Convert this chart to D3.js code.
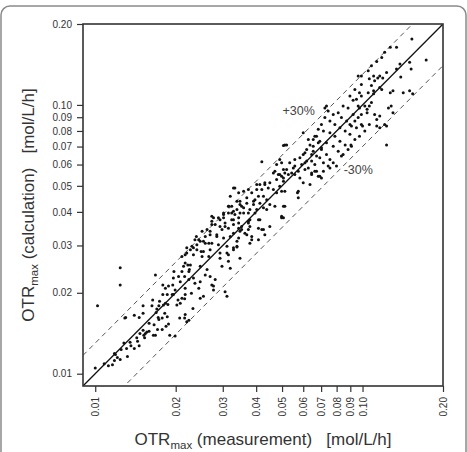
<!DOCTYPE html>
<html>
<head>
<meta charset="utf-8">
<script src="https://cdn.jsdelivr.net/npm/d3@7/dist/d3.min.js"></script>
<style>
  body { margin: 0; background: #fff; }
  text { font-family: "Liberation Sans", Arial, sans-serif; }
</style>
</head>
<body>
<div id="chart"></div>
<script>
// OTRmax measured (x) vs calculated (y), mol/L/h
var samples = [
  [0.0124,0.0248],[0.0124,0.0214],[0.0102,0.0179],
  [0.0100,0.0105],[0.0108,0.0109],[0.0112,0.0107],[0.0116,0.0108],[0.0118,0.0112],[0.0121,0.0115],[0.0124,0.0113],[0.0119,0.0118],
  [0.0125,0.0123],[0.0131,0.0124],[0.0132,0.0116],[0.0135,0.0131],[0.0136,0.0127],[0.0140,0.0124],[0.0143,0.0136],[0.0144,0.0132],
  [0.0146,0.0127],[0.0147,0.0141],[0.0151,0.0145],[0.0154,0.0141],[0.0156,0.0143],[0.0159,0.0144],[0.0153,0.0136],[0.0159,0.0154],
  [0.0168,0.0139],[0.0166,0.0152],[0.0130,0.0162],[0.0140,0.0165],[0.0146,0.0162],[0.0151,0.0168],[0.0151,0.0179],[0.0163,0.0179],
  [0.0164,0.0188],[0.0169,0.0169],[0.0173,0.0179],[0.0172,0.0162],[0.0173,0.0159],[0.0178,0.0161],[0.0178,0.0146],[0.0184,0.0150],
  [0.0186,0.0163],[0.0182,0.0168],[0.0170,0.0174],[0.0190,0.0139],[0.0199,0.0138],[0.0174,0.0186],[0.0180,0.0180],[0.0183,0.0183],
  [0.0187,0.0181],[0.0202,0.0180],[0.0208,0.0183],[0.0216,0.0190],[0.0207,0.0161],[0.0217,0.0166],[0.0224,0.0158],[0.0232,0.0175],
  [0.0168,0.0233],[0.0183,0.0208],[0.0179,0.0197],[0.0186,0.0197],[0.0188,0.0212],[0.0195,0.0214],[0.0196,0.0197],[0.0199,0.0205],
  [0.0197,0.0240],[0.0205,0.0230],[0.0208,0.0220],[0.0216,0.0230],[0.0211,0.0240],[0.0217,0.0208],[0.0211,0.0191],[0.0204,0.0188],
  [0.0224,0.0224],[0.0229,0.0199],[0.0224,0.0240],[0.0179,0.0214],[0.0196,0.0227],[0.0233,0.0227],[0.0225,0.0244],[0.0194,0.0197],
  [0.0118,0.0119],[0.0128,0.0130],[0.0129,0.0161],
  [0.0214,0.0251],[0.0217,0.0258],[0.0222,0.0254],[0.0211,0.0273],[0.0220,0.0281],[0.0227,0.0289],[0.0233,0.0294],[0.0240,0.0302],
  [0.0239,0.0324],[0.0244,0.0315],[0.0249,0.0285],[0.0254,0.0311],[0.0258,0.0324],[0.0266,0.0306],[0.0269,0.0339],[0.0273,0.0369],
  [0.0273,0.0385],[0.0281,0.0359],[0.0285,0.0329],[0.0293,0.0374],[0.0302,0.0391],[0.0306,0.0353],[0.0316,0.0420],[0.0324,0.0396],
  [0.0329,0.0374],[0.0339,0.0408],[0.0344,0.0364],[0.0348,0.0438],[0.0359,0.0414],[0.0369,0.0451],[0.0374,0.0396],[0.0379,0.0374],
  [0.0391,0.0426],[0.0402,0.0408],
  [0.0236,0.0217],[0.0247,0.0220],[0.0258,0.0233],[0.0269,0.0230],[0.0273,0.0214],[0.0281,0.0224],[0.0293,0.0269],[0.0298,0.0251],
  [0.0311,0.0281],[0.0315,0.0262],[0.0329,0.0294],[0.0339,0.0298],[0.0344,0.0320],[0.0353,0.0344],[0.0363,0.0333],[0.0379,0.0353],
  [0.0385,0.0315],[0.0408,0.0348],[0.0348,0.0269],[0.0315,0.0277],[0.0320,0.0247],[0.0277,0.0205],[0.0306,0.0202],[0.0311,0.0194],
  [0.0254,0.0194],[0.0262,0.0244],[0.0247,0.0251],[0.0227,0.0254],[0.0217,0.0197],
  [0.0506,0.0707],[0.0512,0.0709],[0.0600,0.0788],[0.0627,0.0744],[0.0663,0.0765],[0.0654,0.0702],[0.0683,0.0723],[0.0702,0.0693],
  [0.0645,0.0654],[0.0673,0.0645],[0.0609,0.0664],[0.0618,0.0618],[0.0420,0.0614],[0.0490,0.0627],[0.0498,0.0609],[0.0534,0.0609],
  [0.0558,0.0592],[0.0592,0.0600],[0.0609,0.0575],[0.0627,0.0583],[0.0645,0.0558],[0.0663,0.0567],[0.0692,0.0543],[0.0470,0.0567],
  [0.0484,0.0551],[0.0498,0.0543],[0.0512,0.0558],[0.0528,0.0551],[0.0543,0.0558],[0.0558,0.0551],[0.0477,0.0528],[0.0506,0.0520],
  [0.0450,0.0513],[0.0431,0.0506],[0.0444,0.0491],[0.0464,0.0484],[0.0477,0.0471],[0.0490,0.0498],[0.0575,0.0477],[0.0600,0.0513],
  [0.0636,0.0506],[0.0402,0.0506],[0.0420,0.0484],[0.0408,0.0457],[0.0385,0.0471],[0.0374,0.0484],[0.0333,0.0491],[0.0391,0.0438],
  [0.0438,0.0444],[0.0450,0.0426],[0.0426,0.0414],[0.0470,0.0420],[0.0512,0.0420],[0.0348,0.0426],[0.0339,0.0438],[0.0359,0.0396],
  [0.0329,0.0402],[0.0315,0.0420],[0.0302,0.0396],[0.0289,0.0380],[0.0306,0.0364],[0.0324,0.0374],[0.0344,0.0380],[0.0374,0.0369],
  [0.0413,0.0374],[0.0426,0.0344],[0.0374,0.0344],[0.0385,0.0324],[0.0344,0.0348],[0.0329,0.0333],[0.0298,0.0344],[0.0506,0.0380],
  [0.0450,0.0353],[0.0575,0.0451],[0.0498,0.0477],
  [0.0963,0.128],[0.0990,0.119],[0.106,0.125],[0.111,0.123],[0.114,0.126],[0.116,0.116],[0.0949,0.105],[0.0990,0.108],
  [0.105,0.111],[0.110,0.110],[0.106,0.0990],[0.0974,0.0974],[0.104,0.0963],[0.111,0.0922],[0.113,0.0883],[0.116,0.0909],
  [0.116,0.0823],[0.121,0.0846],[0.123,0.0709],[0.0963,0.0897],[0.0922,0.0922],[0.0883,0.0974],[0.0846,0.0990],[0.0811,0.0936],
  [0.0777,0.0922],[0.0744,0.0949],[0.0733,0.0990],[0.0834,0.0897],[0.0872,0.0872],[0.0909,0.0834],[0.0949,0.0823],[0.0990,0.0846],
  [0.102,0.0799],[0.0974,0.0765],[0.0936,0.0744],[0.0897,0.0777],[0.0861,0.0799],[0.0823,0.0823],[0.0788,0.0846],[0.0755,0.0872],
  [0.0723,0.0897],[0.0702,0.0846],[0.0683,0.0811],[0.0714,0.0799],[0.0755,0.0788],[0.0788,0.0765],[0.0823,0.0733],[0.0861,0.0709],
  [0.0909,0.0702],[0.0673,0.0765],[0.0654,0.0744],[0.0692,0.0733],[0.0733,0.0723],[0.0777,0.0702],[0.0811,0.0673],[0.0846,0.0654],
  [0.0883,0.0683],[0.0636,0.0709],[0.0618,0.0683],[0.0654,0.0673],[0.0702,0.0683],[0.0733,0.0654],[0.0755,0.0627],[0.0777,0.0609],
  [0.0692,0.0636],[0.0714,0.0609],[0.0600,0.0654],[0.0583,0.0636],[0.0558,0.0627],[0.0609,0.0609],[0.0645,0.0618],[0.0663,0.0600],
  [0.0673,0.0567],[0.0645,0.0551],[0.0714,0.0567],[0.0755,0.0583],[0.0799,0.0592],[0.0551,0.0583],[0.0520,0.0575],[0.0506,0.0535],
  [0.0575,0.0567],[0.0583,0.0535],[0.0723,0.0974],[0.0520,0.0709],
  [0.153,0.176],[0.173,0.147],[0.127,0.164],[0.134,0.164],[0.121,0.157],[0.118,0.150],[0.113,0.145],[0.108,0.140],
  [0.105,0.134],[0.0990,0.128],[0.150,0.144],[0.152,0.136],[0.138,0.142],[0.134,0.136],[0.139,0.127],[0.123,0.132],
  [0.119,0.126],[0.116,0.128],[0.110,0.128],[0.108,0.118],[0.0974,0.111],[0.0936,0.114],[0.0897,0.108],[0.110,0.113],
  [0.118,0.114],[0.127,0.111],[0.130,0.113],[0.150,0.113],[0.154,0.110],[0.128,0.0990],[0.125,0.0974],[0.108,0.102],
  [0.0922,0.104],[0.0963,0.0990],[0.0990,0.0922],[0.104,0.0936],[0.0936,0.0872],[0.0897,0.0846],[0.100,0.0834],[0.106,0.0846],
  [0.123,0.0834],[0.102,0.0990],
  [0.0329,0.0491],[0.0320,0.0457],[0.0344,0.0471],[0.0359,0.0477],[0.0402,0.0484],[0.0413,0.0506],[0.0431,0.0513],[0.0396,0.0444],
  [0.0426,0.0457],[0.0413,0.0431],[0.0369,0.0431],[0.0353,0.0420],[0.0324,0.0420],[0.0315,0.0396],[0.0333,0.0391],[0.0348,0.0396],
  [0.0379,0.0408],[0.0396,0.0396],[0.0438,0.0408],[0.0302,0.0380],[0.0277,0.0380],[0.0273,0.0359],[0.0293,0.0353],[0.0315,0.0348],
  [0.0329,0.0359],[0.0353,0.0353],[0.0374,0.0364],[0.0408,0.0374],[0.0262,0.0344],[0.0251,0.0339],[0.0269,0.0329],[0.0285,0.0324],
  [0.0302,0.0320],[0.0320,0.0324],[0.0348,0.0339],[0.0369,0.0329],[0.0236,0.0315],[0.0247,0.0311],[0.0258,0.0306],[0.0273,0.0306],
  [0.0289,0.0302],[0.0311,0.0298],[0.0339,0.0311],[0.0379,0.0306],[0.0408,0.0315],[0.0420,0.0344],[0.0230,0.0298],[0.0220,0.0294],
  [0.0240,0.0289],[0.0254,0.0285],[0.0269,0.0289],[0.0293,0.0281],[0.0329,0.0289],[0.0217,0.0277],[0.0233,0.0277],[0.0251,0.0273],
  [0.0266,0.0273],[0.0464,0.0558],[0.0490,0.0551],[0.0506,0.0575],[0.0477,0.0600],
  [0.0431,0.0329],[0.0339,0.0296],[0.0277,0.0212],[0.0247,0.0191],[0.0244,0.0208],[0.0220,0.0156],[0.0216,0.0161],[0.0188,0.0153],
  [0.0171,0.0146],[0.0165,0.0139],[0.0152,0.0139],[0.0498,0.0380],[0.0506,0.0420],[0.0571,0.0471],[0.0702,0.0535],[0.0834,0.0645],
  [0.0905,0.0709],[0.113,0.0834],[0.130,0.0936],[0.142,0.111],[0.0512,0.0477],[0.0498,0.0385],[0.0683,0.0543],[0.0744,0.0592]
];

var axisDomain = [0.009, 0.2];
var tickValues = [0.01, 0.02, 0.03, 0.04, 0.05, 0.06, 0.07, 0.08, 0.09, 0.10, 0.20];

// +/-30% bands around the 1:1 line
var bandFactors = [1.3, 0.7];
var bandLabels = ["+30%", "-30%"];
var bandLabelAt = [[0.0502, 0.092], [0.085, 0.0555]];

var xTitle = ["OTR", "max", " (measurement)   [mol/L/h]"];
var yTitle = ["OTR", "max", " (calculation)   [mol/L/h]"];

var W = 467, H = 452;
var margin = { top: 24, right: 24, bottom: 66, left: 83 };

var svg = d3.select("#chart")
  .append("svg")
  .attr("width", W)
  .attr("height", H);

// rounded outer frame
svg.append("rect")
  .attr("x", 1)
  .attr("y", 6)
  .attr("width", W - 2)
  .attr("height", H + 20)
  .attr("rx", 9)
  .attr("fill", "none")
  .attr("stroke", "#8a8a8a")
  .attr("stroke-width", 1.5);

var x = d3.scaleLog().domain(axisDomain).range([margin.left, W - margin.right]);
var y = d3.scaleLog().domain(axisDomain).range([H - margin.bottom, margin.top]);
var fmt = d3.format(".2f");

var plot = svg.append("g");

plot.append("clipPath")
  .attr("id", "clip")
  .append("rect")
  .attr("x", x.range()[0])
  .attr("y", y.range()[1])
  .attr("width", x.range()[1] - x.range()[0])
  .attr("height", y.range()[0] - y.range()[1]);

var lines = plot.append("g").attr("clip-path", "url(#clip)");

//1:1 line
lines.append("line")
  .attr("x1", x(axisDomain[0]))
  .attr("y1", y(axisDomain[0]))
  .attr("x2", x(axisDomain[1]))
  .attr("y2", y(axisDomain[1]))
  .attr("stroke", "#111")
  .attr("stroke-width", 1.3);

//dashed bands
lines.selectAll(".band")
  .data(bandFactors)
  .enter()
  .append("line")
  .attr("class", "band")
  .attr("x1", x(axisDomain[0]))
  .attr("y1", function(f) { return y(axisDomain[0] * f); })
  .attr("x2", x(axisDomain[1]))
  .attr("y2", function(f) { return y(axisDomain[1] * f); })
  .attr("stroke", "#555")
  .attr("stroke-width", 1)
  .attr("stroke-dasharray", "5,4");

//points
plot.append("g")
  .selectAll("circle")
  .data(samples)
  .enter()
  .append("circle")
  .attr("cx", function(d) { return x(d[0]); })
  .attr("cy", function(d) { return y(d[1]); })
  .attr("r", 1.5)
  .attr("fill", "#111");

plot.selectAll(".bandlabel")
  .data(bandLabels)
  .enter()
  .append("text")
  .attr("class", "bandlabel")
  .attr("x", function(d, i) { return x(bandLabelAt[i][0]); })
  .attr("y", function(d, i) { return y(bandLabelAt[i][1]); })
  .attr("font-size", 12.5)
  .attr("fill", "#444")
  .text(function(d) { return d; });

//axes
var xAxis = svg.append("g")
  .attr("transform", "translate(0," + y.range()[0] + ")")
  .call(d3.axisBottom(x).tickValues(tickValues).tickFormat(fmt).tickSize(6).tickSizeOuter(0));
xAxis.selectAll("text")
  .attr("transform", "rotate(-90)")
  .attr("text-anchor", "end")
  .attr("x", -11)
  .attr("y", 0)
  .attr("dy", "0.35em");

var yAxis = svg.append("g")
  .attr("transform", "translate(" + x.range()[0] + ",0)")
  .call(d3.axisLeft(y).tickValues(tickValues).tickFormat(fmt).tickSize(6).tickSizeOuter(0));
yAxis.selectAll("text").attr("x", -11);

svg.selectAll(".tick text")
  .attr("font-size", 10)
  .attr("font-family", "Liberation Sans, Arial, sans-serif")
  .attr("fill", "#333");
svg.selectAll(".tick line").attr("stroke", "#333").attr("stroke-width", 1.2);
svg.selectAll(".domain").remove();

//plot frame
svg.append("rect")
  .attr("x", x.range()[0])
  .attr("y", y.range()[1])
  .attr("width", x.range()[1] - x.range()[0])
  .attr("height", y.range()[0] - y.range()[1])
  .attr("fill", "none")
  .attr("stroke", "#333")
  .attr("stroke-width", 1.6);

//axis titles with subscript
function title(g, parts) {
  var t = g.append("text")
    .attr("text-anchor", "middle")
    .attr("font-size", 17)
    .attr("fill", "#333")
    .style("white-space", "pre");
  t.append("tspan").text(parts[0]);
  t.append("tspan").attr("font-size", 11.5).attr("dy", 4).text(parts[1]);
  t.append("tspan").attr("dy", -4).text(parts[2]);
}

title(svg.append("g").attr("transform", "translate(" + (x.range()[0] + x.range()[1]) / 2 + ",445)"), xTitle);
title(svg.append("g").attr("transform", "translate(34," + (y.range()[0] + y.range()[1]) / 2 + ") rotate(-90)"), yTitle);
</script>
</body>
</html>
